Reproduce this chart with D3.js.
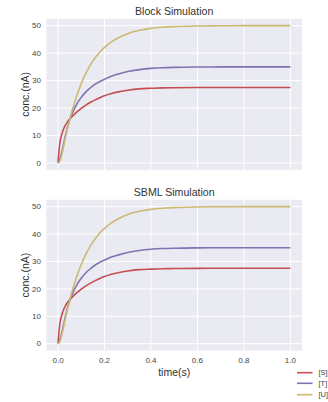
<!DOCTYPE html>
<html><head><meta charset="utf-8">
<script src="https://cdn.jsdelivr.net/npm/d3@7"></script>
<style>body{margin:0;background:#fff;}svg{display:block;font-family:"Liberation Sans",Arial,sans-serif;}</style>
</head><body>
<script>
const times = [0,0.005,0.01,0.015,0.02,0.03,0.04,0.05,0.06,0.07,0.08,0.09,0.1,0.12,0.14,0.16,0.18,0.2,0.23,0.26,0.3,0.35,0.4,0.45,0.5,0.6,0.7,0.8,0.9,1.0];
const seriesS = [0,5.2,8.3,10.1,11.5,13.5,14.9,16.0,16.9,17.7,18.5,19.2,19.9,21.1,22.1,23.0,23.8,24.5,25.3,25.9,26.5,27.0,27.2,27.35,27.42,27.48,27.5,27.5,27.5,27.5];
const seriesT = [0,0.8,2.0,3.6,5.4,9.3,12.8,15.6,17.8,19.7,21.3,22.7,23.9,25.9,27.4,28.7,29.7,30.5,31.6,32.4,33.3,34.0,34.45,34.7,34.83,34.95,34.99,35,35,35];
const seriesU = [0,0.3,1.2,2.7,4.5,8.5,12.3,15.8,18.9,21.7,24.3,26.7,28.9,32.7,35.8,38.3,40.4,42.1,44.1,45.6,47.1,48.3,49.0,49.4,49.65,49.88,49.96,50,50,50];
const seriesNames = ["[S]","[T]","[U]"];
const colors = ["#C44E52","#8172B2","#CCB974"];
const titles = ["Block Simulation","SBML Simulation"];
const xTicks = [0.0,0.2,0.4,0.6,0.8,1.0];
const yTicks = [0,10,20,30,40,50];

const W=328,H=402;
const svg=d3.select("body").append("svg").attr("width",W).attr("height",H);
const allSeries=[seriesS,seriesT,seriesU];
const left=46.4,right=302;
const panels=[{top:18.8,bottom:169.9,title:titles[0],xlab:false},{top:199.8,bottom:350.5,title:titles[1],xlab:true}];
const x=d3.scaleLinear().domain([-0.05,1.05]).range([left,right]);

panels.forEach(p=>{
  const y=d3.scaleLinear().domain([-2.5,52.5]).range([p.bottom,p.top]);
  const g=svg.append("g");
  g.append("rect").attr("x",left).attr("y",p.top).attr("width",right-left).attr("height",p.bottom-p.top).attr("fill","#EAEAF2");
  g.selectAll("line.vx").data(xTicks).enter().append("line")
    .attr("x1",d=>x(d)).attr("x2",d=>x(d)).attr("y1",p.top).attr("y2",p.bottom).attr("stroke","#fff").attr("stroke-width",1);
  g.selectAll("line.hy").data(yTicks).enter().append("line")
    .attr("x1",left).attr("x2",right).attr("y1",d=>y(d)).attr("y2",d=>y(d)).attr("stroke","#fff").attr("stroke-width",1);
  g.selectAll("text.yt").data(yTicks).enter().append("text")
    .attr("x",left-5.5).attr("y",d=>y(d)).attr("dy","0.35em").attr("text-anchor","end")
    .attr("font-size",8).attr("fill","#444").text(d=>d);
  if(p.xlab){
    g.selectAll("text.xt").data(xTicks).enter().append("text")
      .attr("x",d=>x(d)).attr("y",p.bottom+9.8).attr("dy","0.35em").attr("text-anchor","middle")
      .attr("font-size",8).attr("fill","#444").text(d=>d.toFixed(1));
    g.append("text").attr("x",(left+right)/2).attr("y",p.bottom+21.5).attr("dy","0.35em").attr("text-anchor","middle")
      .attr("font-size",10.5).attr("fill","#333").text("time(s)");
  }
  g.append("text").attr("x",(left+right)/2).attr("y",p.top-7.6).attr("dy","0.35em").attr("text-anchor","middle")
    .attr("font-size",10.6).attr("fill","#333").text(p.title);
  const cy=(p.top+p.bottom)/2;
  g.append("text").attr("transform",`translate(25,${cy}) rotate(-90)`).attr("dy","0.35em").attr("text-anchor","middle")
    .attr("font-size",10.5).attr("fill","#333").text("conc.(nA)");
  const line=d3.line().x((d,i)=>x(times[i])).y(d=>y(d)).curve(d3.curveMonotoneX);
  allSeries.forEach((s,k)=>{
    g.append("path").datum(s).attr("d",line).attr("fill","none").attr("stroke",colors[k]).attr("stroke-width",1.6);
  });
});

const legY=[372.7,383.3,394.7];
seriesNames.forEach((n,k)=>{
  svg.append("line").attr("x1",297).attr("x2",312.5).attr("y1",legY[k]).attr("y2",legY[k]).attr("stroke",colors[k]).attr("stroke-width",1.6);
  svg.append("text").attr("x",318.5).attr("y",legY[k]).attr("dy","0.35em").attr("font-size",7.5).attr("fill","#444").text(n);
});
</script>
</body></html>
